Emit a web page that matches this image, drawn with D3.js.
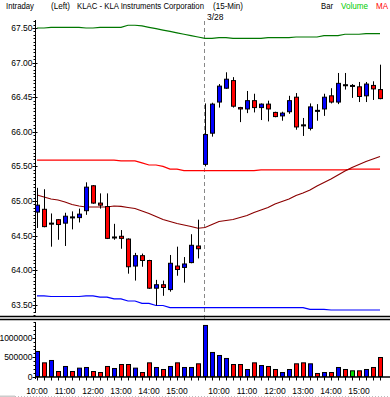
<!DOCTYPE html>
<html>
<head>
<meta charset="utf-8">
<script src="https://cdn.jsdelivr.net/npm/d3@7"></script>
<style>
  body { margin: 0; background: #fff; }
  text { font-family: "Liberation Sans", Arial, sans-serif; font-size: 8.5px; fill: #000; }
</style>
</head>
<body>
<script>
const times = [
  "10:00","10:15","10:30","10:45","11:00","11:15","11:30","11:45","12:00","12:15","12:30","12:45",
  "13:00","13:15","13:30","13:45","14:00","14:15","14:30","14:45","15:00","15:15","15:30","15:45",
  "9:30","9:45","10:00","10:15","10:30","10:45","11:00","11:15","11:30","11:45","12:00","12:15","12:30","12:45",
  "13:00","13:15","13:30","13:45","14:00","14:15","14:30","14:45","15:00","15:15","15:30","15:45"
];
const dayBreak = 24;
const dayLabel = "3/28";

const open = [64.84,64.88,64.68,64.73,64.68,64.77,64.76,64.86,65.22,64.97,64.92,64.48,64.49,64.45,64.06,64.21,64.14,63.74,63.79,63.72,64.06,64.04,64.11,64.35,
  65.53,65.98,66.43,66.63,66.74,66.35,66.33,66.45,66.35,66.40,66.28,66.23,66.29,66.50,66.10,66.05,66.31,66.33,66.52,66.43,66.68,66.67,66.65,66.52,66.67,66.61];
const high = [65.19,65.17,64.82,64.74,64.83,64.85,64.89,65.27,65.23,65.11,65.11,64.67,64.58,64.46,64.25,64.24,64.15,63.86,63.85,64.22,64.34,64.19,64.52,64.73,
  66.41,66.42,66.69,66.86,66.79,66.36,66.59,66.55,66.41,66.45,66.29,66.29,66.52,66.56,66.20,66.41,66.40,66.55,66.63,66.85,66.85,66.69,66.72,66.72,66.73,66.97];
const low = [64.61,64.62,64.34,64.44,64.35,64.59,64.69,64.80,64.96,64.89,64.45,64.44,64.31,63.95,63.85,64.05,63.73,63.49,63.63,63.69,63.92,63.82,64.10,64.17,
  65.50,65.93,66.35,66.62,66.35,66.14,66.27,66.28,66.17,66.15,66.21,66.16,66.26,66.03,65.94,66.02,66.16,66.23,66.41,66.40,66.61,66.49,66.43,66.43,66.46,66.47];
const close = [64.94,64.63,64.67,64.66,64.78,64.77,64.81,65.20,64.97,64.94,64.46,64.48,64.46,64.05,64.21,64.14,63.74,63.79,63.75,64.10,64.01,64.09,64.36,64.31,
  65.96,66.40,66.66,66.76,66.37,66.33,66.45,66.35,66.40,66.33,66.22,66.27,66.45,66.07,66.10,66.36,66.31,66.50,66.43,66.70,66.68,66.67,66.51,66.69,66.62,66.48];

const volume = [647000,353000,414000,129000,259000,129000,216000,233000,129000,103000,259000,207000,310000,310000,216000,103000,353000,233000,181000,259000,353000,233000,233000,328000,
  1319000,621000,543000,466000,310000,310000,181000,353000,284000,259000,181000,103000,181000,328000,353000,328000,78000,103000,103000,233000,181000,147000,147000,181000,233000,491000];
const volumeDir = ["u","d","u","d","u","d","u","u","d","d","d","u","d","d","u","d","d","u","d","u","d","u","u","d",
  "u","u","u","u","d","d","u","d","u","d","d","u","u","d","d","u","d","u","d","u","d","n","d","u","d","d"];

const upperBand = [67.50,67.50,67.51,67.51,67.51,67.51,67.51,67.50,67.50,67.51,67.51,67.51,67.51,67.54,67.54,67.53,67.51,67.49,67.47,67.45,67.43,67.41,67.39,67.37,
  67.35,67.35,67.36,67.36,67.35,67.35,67.35,67.35,67.35,67.36,67.36,67.36,67.36,67.37,67.37,67.37,67.37,67.39,67.39,67.39,67.41,67.41,67.41,67.42,67.42,67.42];
const middleBand = [65.59,65.59,65.59,65.59,65.59,65.59,65.59,65.59,65.59,65.59,65.59,65.59,65.58,65.58,65.58,65.55,65.52,65.52,65.50,65.46,65.46,65.44,65.44,65.44,
  65.44,65.44,65.44,65.44,65.44,65.44,65.44,65.44,65.45,65.45,65.45,65.45,65.45,65.45,65.45,65.45,65.45,65.45,65.45,65.45,65.45,65.46,65.46,65.46,65.46,65.46];
const lowerBand = [63.63,63.63,63.62,63.62,63.62,63.62,63.62,63.63,63.63,63.61,63.61,63.585,63.585,63.555,63.555,63.52,63.52,63.49,63.49,63.46,63.46,63.46,63.46,63.46,
  63.46,63.46,63.46,63.46,63.46,63.46,63.46,63.46,63.46,63.46,63.46,63.46,63.46,63.46,63.46,63.435,63.435,63.435,63.425,63.425,63.425,63.425,63.425,63.425,63.425,63.425];
const movingAvg = [65.087,65.058,65.029,65.014,64.986,64.949,64.928,64.913,64.913,64.913,64.913,64.928,64.921,64.906,64.892,64.855,64.819,64.776,64.733,64.704,64.675,64.653,64.632,64.606,
  64.617,64.660,64.704,64.718,64.733,64.762,64.790,64.834,64.870,64.906,64.957,64.993,65.029,65.080,65.116,65.159,65.217,65.267,65.318,65.376,65.434,65.484,65.527,65.571,65.607,65.643];

const priceTicks = [63.5,64,64.5,65,65.5,66,66.5,67,67.5];
const priceTickLabels = ["63.50","64.00","64.50","65.00","65.50","66.00","66.45","67.00","67.50"];
const volumeTicks = [0,500000,1000000];

const header = [
  {text: "Intraday", x: 6, w: 28, color: "#000"},
  {text: "(Left)", x: 51, w: 19, color: "#000"},
  {text: "KLAC - KLA Instruments Corporation", x: 77, w: 127, color: "#000"},
  {text: "(15-Min)", x: 213, w: 30, color: "#000"},
  {text: "Bar", x: 321, w: 12, color: "#000"},
  {text: "Volume", x: 341, w: 27, color: "#00cc00"},
  {text: "MA", x: 376, w: 12, color: "#ff0000"}
];

const width = 390, height = 397;
const colors = {u: "#0000ff", d: "#ff0000", n: "#00dd00"};

const svg = d3.select("body").append("svg")
  .attr("width", width).attr("height", height);
svg.append("rect").attr("width", width).attr("height", height).attr("fill", "#fff");

const idx = d3.range(times.length);
const x = d3.scaleLinear().domain([0, times.length - 1]).range([37, 380]);
const y = d3.scaleLinear().domain([63.5, 67.5]).range([304.8, 28]);
const yv = d3.scaleLinear().domain([0, 1000000]).range([376.5, 337.8]);

// header
svg.append("g").selectAll("text").data(header).join("text")
  .attr("x", d => d.x).attr("y", 8.5)
  .attr("textLength", d => d.w).attr("lengthAdjust", "spacingAndGlyphs")
  .style("font-size", "8.5px")
  .style("fill", d => d.color)
  .text(d => d.text);

// day break
const xb = Math.round(x(dayBreak)) - 0.5;
svg.append("line").attr("x1", xb).attr("x2", xb).attr("y1", 21).attr("y2", 319)
  .attr("stroke", "#888").attr("stroke-dasharray", "4,3");
svg.append("text").attr("x", xb + 2.5).attr("y", 19.5).text(dayLabel);

// lines
const lineFor = arr => d3.line().x(i => x(i)).y(i => y(arr[i]))(idx);
svg.append("path").attr("d", lineFor(upperBand)).attr("fill", "none").attr("stroke", "#007700").attr("stroke-width", 1.2);
svg.append("path").attr("d", lineFor(middleBand)).attr("fill", "none").attr("stroke", "#ff0000").attr("stroke-width", 1.2);
svg.append("path").attr("d", lineFor(lowerBand)).attr("fill", "none").attr("stroke", "#0000ff").attr("stroke-width", 1.2);
svg.append("path").attr("d", lineFor(movingAvg)).attr("fill", "none").attr("stroke", "#8b0000").attr("stroke-width", 1.2);

// candles
const candles = svg.append("g").selectAll("g").data(idx).join("g");
candles.append("line")
  .attr("x1", i => Math.round(x(i)) + 0.5).attr("x2", i => Math.round(x(i)) + 0.5)
  .attr("y1", i => y(high[i])).attr("y2", i => y(low[i]))
  .attr("stroke", "#000");
candles.append("rect")
  .attr("x", i => Math.round(x(i)) - 1.5)
  .attr("width", 4)
  .attr("y", i => y(Math.max(open[i], close[i])))
  .attr("height", i => Math.max(1, Math.abs(y(open[i]) - y(close[i]))))
  .attr("fill", i => close[i] > open[i] ? "#0000ff" : close[i] < open[i] ? "#ff0000" : "#000")
  .attr("stroke", "#000");

// price axis
const gy = svg.append("g").attr("transform", "translate(35.5,0)");
gy.append("line").attr("y1", 20).attr("y2", 313).attr("stroke", "#000");
gy.selectAll(".minor").data(d3.range(0, 86)).join("line")
  .attr("x1", -2).attr("x2", 0)
  .attr("y1", k => Math.round(y(63.35 + k * 0.05)) + 0.5)
  .attr("y2", k => Math.round(y(63.35 + k * 0.05)) + 0.5)
  .attr("stroke", "#000");
gy.selectAll(".major").data(priceTicks).join("line")
  .attr("x1", -3).attr("x2", 2)
  .attr("y1", d => Math.round(y(d)) + 0.5).attr("y2", d => Math.round(y(d)) + 0.5)
  .attr("stroke", "#000");
gy.selectAll("text").data(priceTicks).join("text")
  .attr("x", -3).attr("y", d => y(d) + 3)
  .attr("text-anchor", "end")
  .text((d, i) => priceTickLabels[i]);

// separator
svg.append("line").attr("x1", 0).attr("x2", width).attr("y1", 316.5).attr("y2", 316.5).attr("stroke", "#000").attr("stroke-width", 1.3);
svg.append("line").attr("x1", 0).attr("x2", width).attr("y1", 319.5).attr("y2", 319.5).attr("stroke", "#000").attr("stroke-width", 1.3);

// volume bars
svg.append("g").selectAll("rect").data(idx).join("rect")
  .attr("x", i => Math.round(x(i)) - 1.5)
  .attr("width", 4)
  .attr("y", i => yv(volume[i]))
  .attr("height", i => yv(0) - yv(volume[i]))
  .attr("fill", i => colors[volumeDir[i]])
  .attr("stroke", "#000");

// volume axis
const gv = svg.append("g").attr("transform", "translate(35.5,0)");
gv.append("line").attr("y1", 322).attr("y2", 379).attr("stroke", "#000");
gv.selectAll(".minor").data(d3.range(0, 15)).join("line")
  .attr("x1", -2).attr("x2", 0)
  .attr("y1", k => Math.round(yv(k * 100000)) + 0.5)
  .attr("y2", k => Math.round(yv(k * 100000)) + 0.5)
  .attr("stroke", "#000");
gv.selectAll(".major").data(volumeTicks).join("line")
  .attr("x1", -3).attr("x2", 0)
  .attr("y1", d => Math.round(yv(d)) + 0.5).attr("y2", d => Math.round(yv(d)) + 0.5)
  .attr("stroke", "#000");
gv.selectAll("text").data(volumeTicks).join("text")
  .attr("x", -3).attr("y", d => yv(d) + 3)
  .attr("text-anchor", "end")
  .text(d => d);

svg.append("line").attr("x1", 35).attr("x2", width).attr("y1", 377).attr("y2", 377).attr("stroke", "#000").attr("stroke-width", 1.3);

// time axis: a tick under every bar, labels on the hour
svg.append("g").selectAll("line").data(idx).join("line")
  .attr("x1", i => Math.round(x(i)) + 0.5).attr("x2", i => Math.round(x(i)) + 0.5)
  .attr("y1", 377).attr("y2", 380.5).attr("stroke", "#000");
const hourIdx = idx.filter(i => times[i].endsWith(":00"));
svg.append("g").selectAll("text").data(hourIdx).join("text")
  .attr("x", i => x(i)).attr("y", 394)
  .attr("text-anchor", "middle")
  .text(i => times[i]);

// faint bottom rule
svg.append("line").attr("x1", 15).attr("x2", width).attr("y1", 396.5).attr("y2", 396.5)
  .attr("stroke", "#bbb").attr("stroke-dasharray", "1,2");
svg.append("rect").attr("x", 0).attr("y", 395.5).attr("width", 15).attr("height", 1.5).attr("fill", "#ccc");
</script>
</body>
</html>
